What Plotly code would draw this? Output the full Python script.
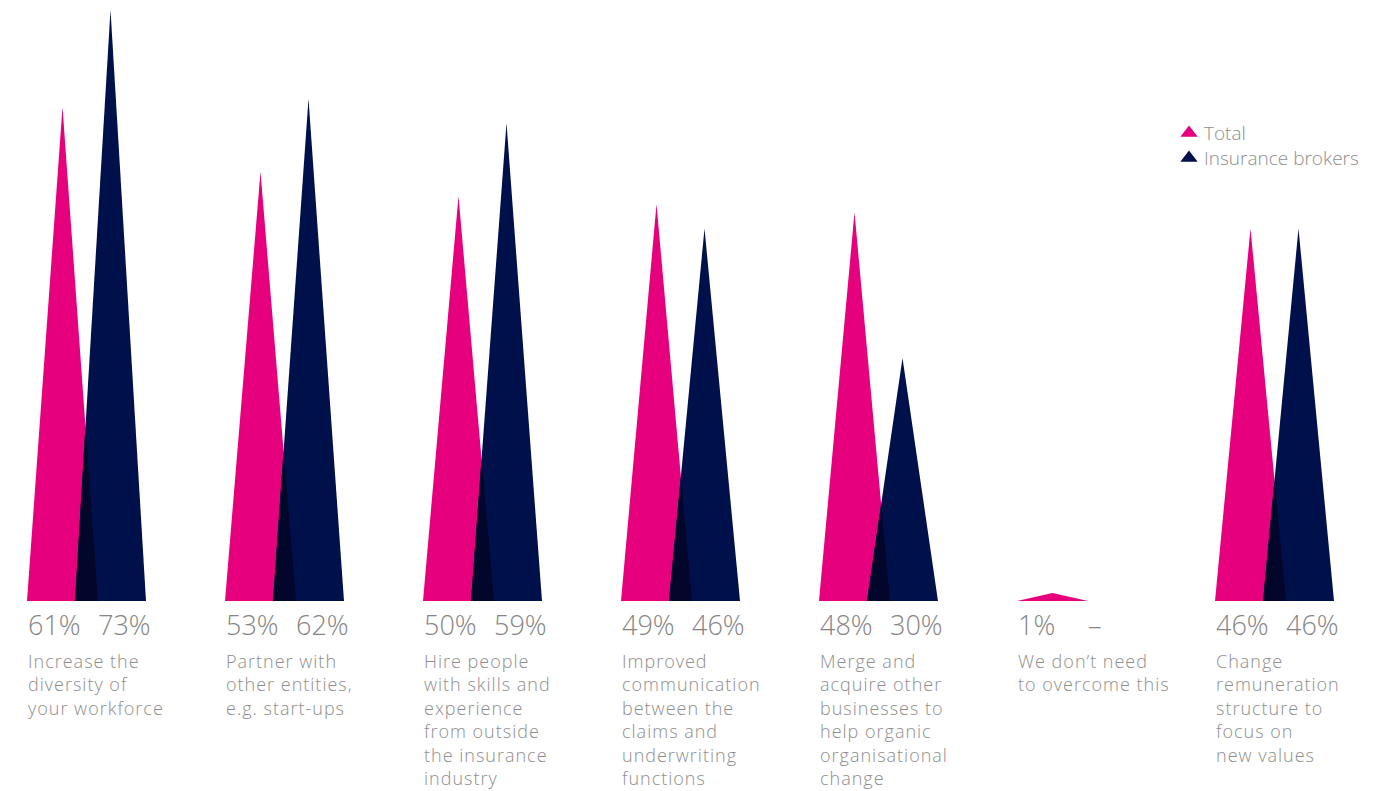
import plotly.graph_objects as go

# Survey answers: share of respondents per measure
categories = [
    ["Increase the", "diversity of", "your workforce"],
    ["Partner with", "other entities,", "e.g. start-ups"],
    ["Hire people", "with skills and", "experience", "from outside",
     "the insurance", "industry"],
    ["Improved", "communication", "between the", "claims and",
     "underwriting", "functions"],
    ["Merge and", "acquire other", "businesses to", "help organic",
     "organisational", "change"],
    ["We don’t need", "to overcome this"],
    ["Change", "remuneration", "structure to", "focus on", "new values"],
]
total = [61, 53, 50, 49, 48, 1, 46]
brokers = [73, 62, 59, 46, 30, None, 46]
series_names = ["Total", "Insurance brokers"]

PINK = "#E6007E"
NAVY = "#00104A"
OVERLAP = "#03062B"
GREY = "#8E8E8E"
PCT_GREY = "#858585"
FONT = "Open Sans, Roboto, Arial, sans-serif"

# layout constants (pixels) and conversion helpers
PX_PER_UNIT = 198          # horizontal distance between groups
PX_PER_PCT = 8.1           # vertical pixels per percentage point
BASE_X, BASE_Y = 27, 601   # left edge of first group / baseline
W = 71 / PX_PER_UNIT       # triangle base width
D = 48 / PX_PER_UNIT       # offset of the second triangle


def xu(px):
    return (px - BASE_X) / PX_PER_UNIT


def yu(py):
    return (BASE_Y - py) / PX_PER_PCT


def spaced(lines, ls="1px"):
    return "<br>".join(f"<span style='letter-spacing:{ls}'>{s}</span>"
                       for s in lines)


fig = go.Figure()


def tri(x0, h):
    return [x0, x0 + W / 2, x0 + W, x0], [0, h, 0, 0]


def add_poly(xs, ys, color):
    fig.add_trace(go.Scatter(x=xs, y=ys, fill="toself", fillcolor=color,
                             line=dict(width=0), mode="lines",
                             hoverinfo="skip", showlegend=False))


for i, (t, b) in enumerate(zip(total, brokers)):
    x0 = float(i)
    add_poly(*tri(x0, t), PINK)
    if b is not None:
        x1 = x0 + D
        add_poly(*tri(x1, b), NAVY)
        # region where both triangles overlap
        xi = (t * (x0 + W) + b * x1) / (t + b)
        yi = b * (xi - x1) / (W / 2)
        add_poly([x1, xi, x0 + W, x1], [0, yi, 0, 0], OVERLAP)

    # value labels
    fig.add_annotation(x=x0 - 1 / PX_PER_UNIT, y=yu(624), text=f"{t}%",
                       showarrow=False, xanchor="left", yanchor="middle",
                       font=dict(size=27, color=PCT_GREY, weight=300))
    fig.add_annotation(x=x0 + 69 / PX_PER_UNIT, y=yu(624),
                       text=f"{b}%" if b is not None else "–",
                       showarrow=False, xanchor="left", yanchor="middle",
                       font=dict(size=27, color=PCT_GREY, weight=300))
    # category label
    fig.add_annotation(x=x0 - 1 / PX_PER_UNIT, y=yu(647),
                       text=spaced(categories[i]), showarrow=False,
                       xanchor="left", yanchor="top", align="left",
                       font=dict(size=18, color=GREY, weight=300))

# legend
for k, (name, col) in enumerate(zip(series_names, [PINK, NAVY])):
    row = 133 + 25 * k
    fig.add_trace(go.Scatter(x=[xu(1189)], y=[yu(row)], mode="markers",
                             marker=dict(symbol="triangle-up", size=15,
                                         color=col, line=dict(width=0)),
                             hoverinfo="skip", showlegend=False))
    fig.add_annotation(x=xu(1202), y=yu(row), text=name, showarrow=False,
                       xanchor="left", yanchor="middle",
                       font=dict(size=19, color=GREY, weight=300))

fig.update_layout(
    width=1395, height=791,
    margin=dict(l=0, r=0, t=0, b=0),
    paper_bgcolor="white", plot_bgcolor="white",
    font=dict(family=FONT),
    xaxis=dict(range=[xu(0), xu(1395)], visible=False, fixedrange=True),
    yaxis=dict(range=[yu(791), yu(0)], visible=False, fixedrange=True),
    showlegend=False,
)

fig.write_html("out.html")
